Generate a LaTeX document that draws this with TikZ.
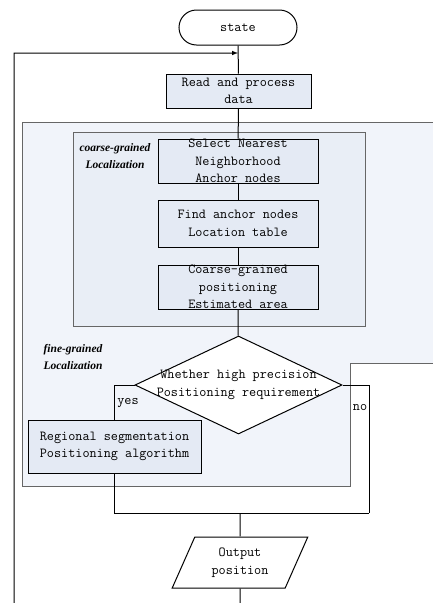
\documentclass[tikz,border=0pt]{standalone}
\usepackage{fontspec}
\setmainfont{Liberation Serif}
\usetikzlibrary{shapes.geometric}
\definecolor{panelout}{HTML}{F1F4FA}
\definecolor{panelin}{HTML}{E9EEF6}
\definecolor{boxfill}{HTML}{E4EAF4}

\begin{document}
\begin{tikzpicture}[x=1pt, y=-1pt, line width=1pt,
        txt/.style={align=center, font=\ttfamily\fontsize{13.8}{17.5}\selectfont},
        box/.style={txt, draw, fill=boxfill, inner sep=0pt, minimum width=160pt, minimum height=44pt},
        tag/.style={align=center, font=\bfseries\itshape\fontsize{11.5}{17}\selectfont},
        panel/.style={draw=black!60, line width=1pt}]
        \clip (0,0) rectangle (433,603);
        \fill[white] (0,0) rectangle (433,603);
        % panels
        \draw[panel, fill=panelout] (22,122) -- (440,122) -- (440,363) -- (350,363) -- (350,486) -- (22,486) -- cycle;
        \draw[panel, fill=panelin] (73,132) rectangle (365,326);
        \node[tag] (coarsetag) at (115,156) {coarse-grained\\Localization};
        \node[tag] (finetag) at (73,357) {fine-grained\\Localization};
        % steps
        \node[txt, draw, rounded corners=17.5pt, minimum width=118pt, minimum height=35pt] (start) at (238,27.5) {state};
        \coordinate (back) at (238,53);
        \node[box, minimum width=145pt, minimum height=34pt] (read) at (238.5,91) {Read and process\\data};
        \node[box] (select) at (238,161) {Select Nearest\\Neighborhood\\Anchor nodes};
        \node[box, minimum height=47pt] (find) at (238,223.5) {Find anchor nodes\\Location table};
        \node[box] (coarse) at (238,287) {Coarse-grained\\positioning\\Estimated area};
        \node[draw, diamond, fill=white, inner sep=0pt, minimum width=207pt, minimum height=98pt] (test) at (238.5,385) {};
        \node[txt] (testtext) at (test) {Whether high precision\\Positioning requirement};
        \node[box, minimum width=173pt, minimum height=53pt] (region) at (114.5,446.5) {Regional segmentation\\Positioning algorithm};
        \node[txt, draw, fill=white, trapezium, trapezium left angle=64, trapezium right angle=116, trapezium stretches=true, inner sep=0pt, minimum width=136pt, minimum height=51pt] (output) at (240,562.5) {Output\\position};
        \node[txt] (yes) at (128,403) {yes};
        \node[txt] (no) at (360,407) {no};
        % connectors
        \coordinate (merge) at (240,513);
        \coordinate (noend) at (369,513);
        \coordinate (loopa) at (240,620);
        \coordinate (loopb) at (14,620);
        \draw (start) -- (read);
        \draw (read) -- (select);
        \draw (select) -- (find);
        \draw (find) -- (coarse);
        \draw (coarse) -- (test);
        \draw (test.west) -| (region.north);
        \draw (region.south) |- (noend);
        \draw (test.east) -| (noend);
        \draw (merge) -- (output);
        \draw[-latex] (output.south) -- (loopa) -- (loopb) |- (back);
    \end{tikzpicture}
\end{document}
